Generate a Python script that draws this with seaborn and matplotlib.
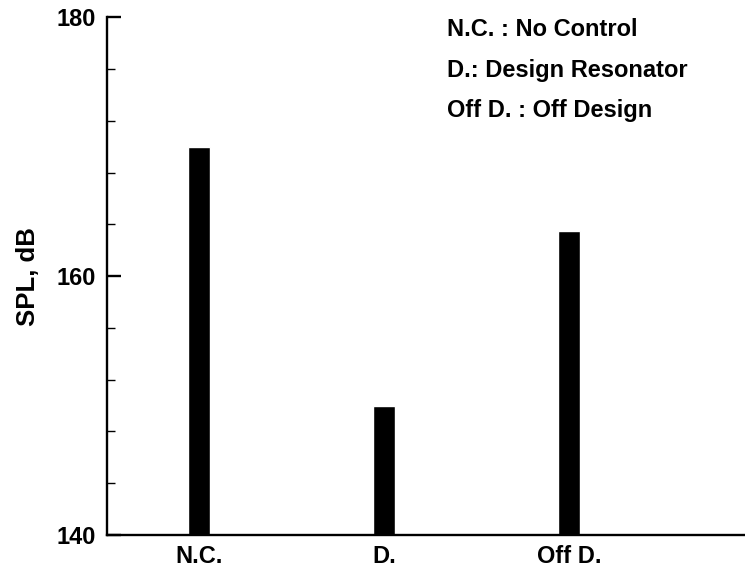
import matplotlib
matplotlib.use("Agg")
import matplotlib.pyplot as plt
from matplotlib.ticker import MultipleLocator
import seaborn as sns

# Sound pressure level for each configuration
categories = ["N.C.", "D.", "Off D."]
spl_db = [170.0, 150.0, 163.5]
legend_lines = ["N.C. : No Control", "D.: Design Resonator", "Off D. : Off Design"]

sns.set_style("white")
plt.rcParams["font.family"] = ["Liberation Sans", "DejaVu Sans"]
plt.rcParams["font.weight"] = "bold"
plt.rcParams["text.color"] = "black"
plt.rcParams["axes.labelcolor"] = "black"
plt.rcParams["xtick.color"] = "black"
plt.rcParams["ytick.color"] = "black"

fig = plt.figure(figsize=(7.45, 5.71), dpi=100)
ax = fig.add_axes([0.1436, 0.063, 0.8564, 0.9067])

sns.barplot(x=categories, y=spl_db, color="black", width=0.12,
            saturation=1, ax=ax)

ax.set_ylim(140, 180)
ax.set_xlim(-0.497, 2.951)
ax.yaxis.set_major_locator(MultipleLocator(20))
ax.yaxis.set_minor_locator(MultipleLocator(4))

for side in ("top", "right"):
    ax.spines[side].set_visible(False)
for side in ("left", "bottom"):
    ax.spines[side].set_linewidth(1.7)
    ax.spines[side].set_color("black")

ax.tick_params(axis="y", which="major", direction="in", length=10, width=1.7,
               labelsize=17, pad=8, left=True, colors="black")
ax.tick_params(axis="y", which="minor", direction="in", length=6, width=1.0,
               left=True, colors="black")
ax.tick_params(axis="x", which="both", length=0, labelsize=17, pad=7,
               colors="black")
for lbl in ax.get_xticklabels() + ax.get_yticklabels():
    lbl.set_fontweight("bold")

ax.set_ylabel("SPL, dB", fontsize=18.5, fontweight="bold", labelpad=12,
              color="black")
ax.set_xlabel("")

for i, line in enumerate(legend_lines):
    fig.text(447 / 745, 1 - (29 + 41 * i) / 571, line, fontsize=17,
             fontweight="bold", va="center", ha="left", color="black")

fig.savefig("out.png", dpi=100)
